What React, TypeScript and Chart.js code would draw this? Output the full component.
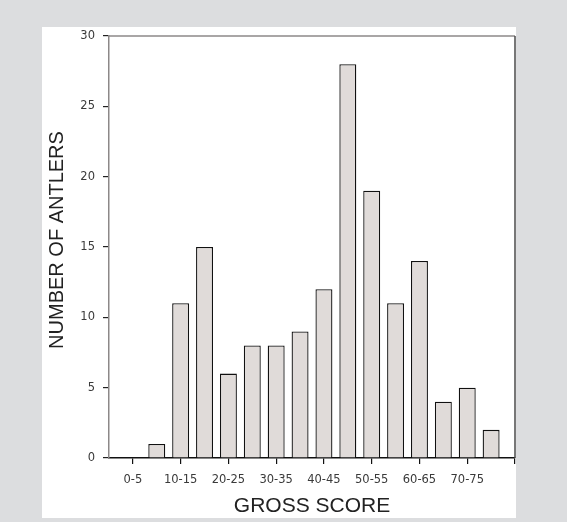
import React, { useEffect, useRef } from "react";
import { Chart, registerables } from "chart.js";

Chart.register(...registerables);

const categories = ["", "0-5", "5-10", "10-15", "15-20", "20-25", "25-30", "30-35", "35-40", "40-45", "45-50", "50-55", "55-60", "60-65", "65-70", "70-75", "75-80", ""];
const antlers = [null, 0, 1, 11, 15, 6, 8, 8, 9, 12, 28, 19, 11, 14, 4, 5, 2, null];
const yTicks = [0, 5, 10, 15, 20, 25, 30];
const yTitle = "NUMBER OF ANTLERS";

const framePlugin = {
  id: "frame",
  afterDraw(chart: any) {
    const { ctx, chartArea: a } = chart;
    ctx.save();
    ctx.lineWidth = 1.5;
    ctx.strokeStyle = "#8c8888";
    ctx.beginPath();
    ctx.moveTo(a.left, a.top);
    ctx.lineTo(a.right, a.top);
    ctx.stroke();
    ctx.strokeStyle = "#4a4a4a";
    ctx.beginPath();
    ctx.moveTo(a.right, a.top);
    ctx.lineTo(a.right, a.bottom);
    ctx.stroke();
    // y axis title
    ctx.translate(15.5, (a.top + a.bottom) / 2 - 7);
    ctx.rotate(-Math.PI / 2);
    ctx.fillStyle = "#222";
    ctx.font = "20px 'Liberation Sans'";
    ctx.textAlign = "center";
    ctx.textBaseline = "middle";
    ctx.fillText(yTitle, 0, 0);
    ctx.restore();
  },
};

export default function App() {
  const ref = useRef<HTMLCanvasElement>(null);
  useEffect(() => {
    const chart = new Chart(ref.current as HTMLCanvasElement, {
      type: "bar",
      data: {
        labels: categories,
        datasets: [
          {
            data: antlers as any,
            backgroundColor: "#e0dbd9",
            borderColor: "#111",
            borderWidth: 1.3,
            categoryPercentage: 1,
            barPercentage: 0.71,
          },
        ],
      },
      options: {
        responsive: false,
        animation: false,
        layout: { padding: { left: 0, right: 1, top: 9, bottom: 0 } },
        plugins: { legend: { display: false }, tooltip: { enabled: false } },
        scales: {
          x: {
            type: "category",
            offset: false,
            afterFit: (s: any) => {
              s.height = 60;
              s.paddingLeft = 0;
              s.paddingRight = 0;
            },
            grid: {
              offset: false,
              drawOnChartArea: false,
              drawTicks: true,
              tickLength: 6,
              color: (c: any) => (c.index % 2 === 1 ? "#111" : "rgba(0,0,0,0)"),
              lineWidth: 1.2,
            },
            border: { display: true, color: "#111", width: 1.5 },
            ticks: {
              autoSkip: false,
              maxRotation: 0,
              padding: 9,
              color: "#3a3a3a",
              font: { family: "DejaVu Sans", size: 11.5 },
              callback: (_v: any, i: number) => (i % 2 === 1 ? categories[i] : ""),
            },
            title: {
              display: true,
              text: "GROSS SCORE",
              color: "#222",
              font: { family: "Liberation Sans", size: 21, lineHeight: 1 },
              padding: { top: 0, bottom: 1.5 },
            },
          },
          y: {
            min: 0,
            max: 30,
            afterFit: (s: any) => {
              s.width = 67;
              s.paddingTop = 0;
              s.paddingBottom = 0;
            },
            afterBuildTicks: (s: any) => { s.ticks = yTicks.map((v) => ({ value: v })); },
            grid: {
              drawOnChartArea: false,
              drawTicks: true,
              tickLength: 6,
              color: "#222",
              lineWidth: 1.2,
            },
            border: { display: true, color: "#8c8888", width: 1.5 },
            ticks: {
              padding: 8,
              color: "#3a3a3a",
              font: { family: "DejaVu Sans", size: 11.5 },
            },
          },
        },
      },
      plugins: [framePlugin],
    });
    return () => chart.destroy();
  }, []);

  return (
    <div style={{ position: "fixed", left: 0, top: 0, width: 567, height: 522, background: "#dcdddf" }}>
      <div style={{ position: "absolute", left: 42, top: 27, width: 474, height: 491, background: "#fff" }}>
        <canvas ref={ref} width={474} height={491} style={{ display: "block" }} />
      </div>
    </div>
  );
}
